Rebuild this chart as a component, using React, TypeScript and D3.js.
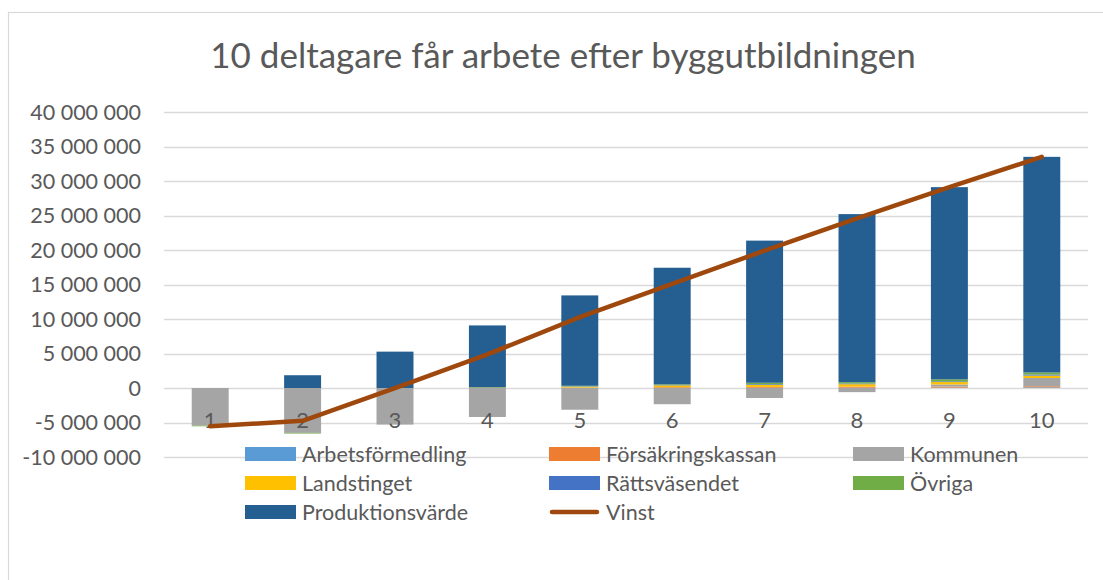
import React, { useEffect, useRef } from "react";
import * as d3 from "d3";

const categories = ["1", "2", "3", "4", "5", "6", "7", "8", "9", "10"];

const arbetsformedling = [0, 0, 0, 0, 20000, 30000, 40000, 50000, 60000, 100000];
const forsakringskassan = [0, 0, 0, 0, 50000, 100000, 120000, 150000, 150000, 150000];
const kommunen = [-5450000, -6500000, -5300000, -4200000, -3150000, -2350000, -1450000, -600000, 300000, 1200000];
const landstinget = [0, 0, 0, 50000, 100000, 250000, 300000, 350000, 350000, 350000];
const rattsvasendet = [0, 0, 0, 0, 50000, 50000, 100000, 100000, 100000, 150000];
const ovriga = [-100000, -100000, 0, 50000, 100000, 100000, 200000, 200000, 300000, 300000];
const produktionsvarde = [0, 1850000, 5270000, 8970000, 13100000, 16900000, 20600000, 24350000, 27850000, 31250000];
const vinst = [-5550000, -4750000, -30000, 4870000, 10270000, 15080000, 19910000, 24600000, 29100000, 33500000];

const yTicks = [40000000, 35000000, 30000000, 25000000, 20000000, 15000000, 10000000, 5000000, 0, -5000000, -10000000];

const seriesNames = [
  "Arbetsförmedling",
  "Försäkringskassan",
  "Kommunen",
  "Landstinget",
  "Rättsväsendet",
  "Övriga",
  "Produktionsvärde",
];
const seriesValues = [
  arbetsformedling,
  forsakringskassan,
  kommunen,
  landstinget,
  rattsvasendet,
  ovriga,
  produktionsvarde,
];
const colors = ["#5B9BD5", "#ED7D31", "#A5A5A5", "#FFC000", "#4472C4", "#70AD47", "#255E91"];
const lineColor = "#9E480E";

export default function App() {
  const svgRef = useRef<SVGSVGElement>(null);

  useEffect(() => {
    const width = 1103;
    const height = 580;
    const font = "Lato, 'Open Sans', sans-serif";
    const textColor = "#595959";

    const svg = d3.select(svgRef.current).attr("width", width).attr("height", height);
    svg.selectAll("*").remove();

    svg
      .append("rect")
      .attr("x", 8.5)
      .attr("y", 12.5)
      .attr("width", 1200)
      .attr("height", 700)
      .attr("fill", "#fff")
      .attr("stroke", "#D9D9D9")
      .attr("stroke-width", 1.2);

    svg
      .append("text")
      .attr("x", 563)
      .attr("y", 68)
      .attr("text-anchor", "middle")
      .attr("font-family", font)
      .attr("font-size", 35)
      .attr("fill", textColor)
      .text("10 deltagare får arbete efter byggutbildningen");

    const table = categories.map((c, i) => {
      const row: any = { cat: c };
      seriesNames.forEach((name, j) => (row[name] = seriesValues[j][i]));
      return row;
    });

    const x = d3.scaleBand().domain(categories).range([164, 1088]).paddingInner(0.6).paddingOuter(0.3);
    const y = d3.scaleLinear().domain([-10000000, 40000000]).range([457, 112]);

    const fmt = (v: number) => d3.format(",")(v).replace(/,/g, " ").replace("−", "-");

    // grid
    svg
      .append("g")
      .selectAll("line")
      .data(yTicks)
      .join("line")
      .attr("x1", 164)
      .attr("x2", 1088)
      .attr("y1", (d) => Math.round(y(d)) + 0.5)
      .attr("y2", (d) => Math.round(y(d)) + 0.5)
      .attr("stroke", "#D9D9D9")
      .attr("stroke-width", 1.5);

    svg
      .append("g")
      .selectAll("text")
      .data(yTicks)
      .join("text")
      .attr("x", 141)
      .attr("y", (d) => y(d))
      .attr("dy", "0.36em")
      .attr("text-anchor", "end")
      .attr("font-family", font)
      .attr("font-size", 21.5)
      .attr("fill", textColor)
      .text((d) => fmt(d));

    const stack = d3.stack<any>().keys(seriesNames).offset(d3.stackOffsetDiverging);
    const stacked = stack(table);

    svg
      .append("g")
      .selectAll("g")
      .data(stacked)
      .join("g")
      .attr("fill", (d, i) => colors[i])
      .selectAll("rect")
      .data((d) => d)
      .join("rect")
      .attr("x", (d: any) => x(d.data.cat)!)
      .attr("width", x.bandwidth())
      .attr("y", (d) => y(Math.max(d[0], d[1])))
      .attr("height", (d) => Math.abs(y(d[0]) - y(d[1])));

    // category labels
    svg
      .append("g")
      .selectAll("text")
      .data(categories)
      .join("text")
      .attr("x", (d) => x(d)! + x.bandwidth() / 2)
      .attr("y", 428)
      .attr("text-anchor", "middle")
      .attr("font-family", font)
      .attr("font-size", 22)
      .attr("fill", textColor)
      .text((d) => d);

    const line = d3
      .line<number>()
      .x((d, i) => x(categories[i])! + x.bandwidth() / 2)
      .y((d) => y(d));

    svg
      .append("path")
      .datum(vinst)
      .attr("fill", "none")
      .attr("stroke", lineColor)
      .attr("stroke-width", 4.5)
      .attr("stroke-linecap", "round")
      .attr("stroke-linejoin", "round")
      .attr("d", line);

    // legend
    const legendItems = [...seriesNames.map((n, i) => ({ name: n, color: colors[i], type: "rect" })), { name: "Vinst", color: lineColor, type: "line" }];
    const colX = [245, 549, 853];
    const rowY = [454, 483, 512];

    const lg = svg
      .append("g")
      .selectAll("g")
      .data(legendItems)
      .join("g")
      .attr("transform", (d, i) => `translate(${colX[i % 3]},${rowY[Math.floor(i / 3)]})`);

    lg.filter((d) => d.type === "rect")
      .append("rect")
      .attr("x", 0)
      .attr("y", -7)
      .attr("width", 51)
      .attr("height", 14)
      .attr("fill", (d) => d.color);

    lg.filter((d) => d.type === "line")
      .append("line")
      .attr("x1", 3)
      .attr("x2", 48)
      .attr("stroke", (d) => d.color)
      .attr("stroke-width", 4.5)
      .attr("stroke-linecap", "round");

    lg.append("text")
      .attr("x", 57)
      .attr("y", 0)
      .attr("dy", "0.36em")
      .attr("font-family", font)
      .attr("font-size", 21.5)
      .attr("fill", textColor)
      .text((d) => d.name);
  }, []);

  return (
    <div style={{ position: "absolute", left: 0, top: 0 }}>
      <svg ref={svgRef} style={{ display: "block" }}></svg>
    </div>
  );
}
